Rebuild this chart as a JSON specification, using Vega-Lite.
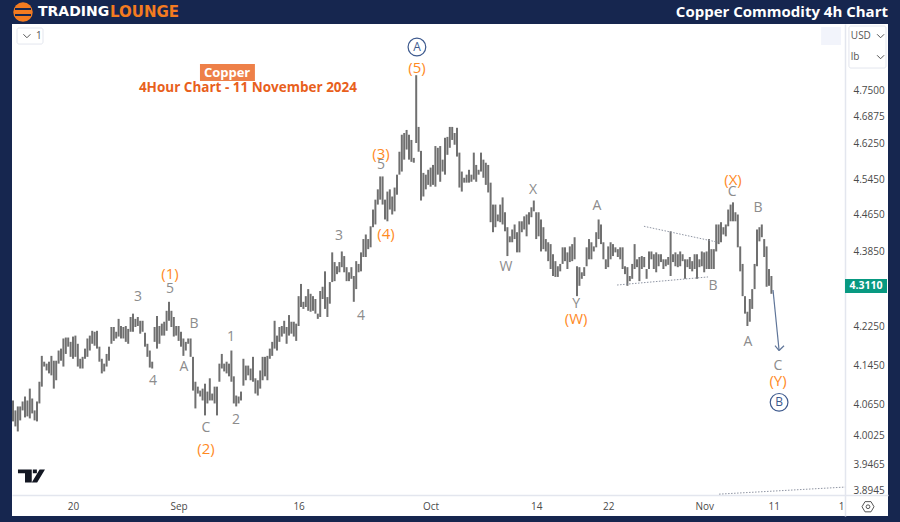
{"$schema":"https://vega.github.io/schema/vega-lite/v6.json","width":876,"height":492,"autosize":{"type":"none"},"padding":{"left":12,"top":24,"right":12,"bottom":6},"background":"#16264f","config":{"view":{"fill":"#ffffff","stroke":null},"text":{"baseline":"middle"}},
"datasets":{
"bars":[{"i":0,"h":4.073,"l":4.031},{"i":1,"h":4.053,"l":4.021},{"i":2,"h":4.061,"l":4.011},{"i":3,"h":4.061,"l":4.033},{"i":4,"h":4.071,"l":4.053},{"i":5,"h":4.081,"l":4.039},{"i":6,"h":4.073,"l":4.041},{"i":7,"h":4.097,"l":4.037},{"i":8,"h":4.077,"l":4.047},{"i":9,"h":4.053,"l":4.033},{"i":10,"h":4.071,"l":4.031},{"i":11,"h":4.111,"l":4.067},{"i":12,"h":4.164,"l":4.101},{"i":13,"h":4.152,"l":4.142},{"i":14,"h":4.148,"l":4.134},{"i":15,"h":4.152,"l":4.128},{"i":16,"h":4.164,"l":4.124},{"i":17,"h":4.154,"l":4.097},{"i":18,"h":4.154,"l":4.114},{"i":19,"h":4.175,"l":4.148},{"i":20,"h":4.179,"l":4.154},{"i":21,"h":4.2,"l":4.142},{"i":22,"h":4.202,"l":4.168},{"i":23,"h":4.202,"l":4.183},{"i":24,"h":4.193,"l":4.162},{"i":25,"h":4.204,"l":4.158},{"i":26,"h":4.206,"l":4.162},{"i":27,"h":4.189,"l":4.142},{"i":28,"h":4.158,"l":4.138},{"i":29,"h":4.162,"l":4.138},{"i":30,"h":4.179,"l":4.158},{"i":31,"h":4.2,"l":4.162},{"i":32,"h":4.206,"l":4.175},{"i":33,"h":4.216,"l":4.189},{"i":34,"h":4.214,"l":4.185},{"i":35,"h":4.216,"l":4.179},{"i":36,"h":4.183,"l":4.152},{"i":37,"h":4.158,"l":4.128},{"i":38,"h":4.148,"l":4.132},{"i":39,"h":4.168,"l":4.142},{"i":40,"h":4.183,"l":4.154},{"i":41,"h":4.224,"l":4.189},{"i":42,"h":4.224,"l":4.195},{"i":43,"h":4.214,"l":4.2},{"i":44,"h":4.241,"l":4.204},{"i":45,"h":4.226,"l":4.2},{"i":46,"h":4.224,"l":4.2},{"i":47,"h":4.226,"l":4.193},{"i":48,"h":4.22,"l":4.189},{"i":49,"h":4.245,"l":4.214},{"i":50,"h":4.252,"l":4.214},{"i":51,"h":4.241,"l":4.224},{"i":52,"h":4.245,"l":4.226},{"i":53,"h":4.237,"l":4.21},{"i":54,"h":4.237,"l":4.214},{"i":55,"h":4.212,"l":4.183},{"i":56,"h":4.189,"l":4.162},{"i":57,"h":4.175,"l":4.14},{"i":58,"h":4.152,"l":4.138},{"i":59,"h":4.224,"l":4.193},{"i":60,"h":4.247,"l":4.179},{"i":61,"h":4.226,"l":4.189},{"i":62,"h":4.231,"l":4.206},{"i":63,"h":4.235,"l":4.206},{"i":64,"h":4.258,"l":4.216},{"i":65,"h":4.277,"l":4.237},{"i":66,"h":4.258,"l":4.224},{"i":67,"h":4.245,"l":4.204},{"i":68,"h":4.226,"l":4.206},{"i":69,"h":4.226,"l":4.195},{"i":70,"h":4.214,"l":4.183},{"i":71,"h":4.2,"l":4.164},{"i":72,"h":4.193,"l":4.175},{"i":73,"h":4.2,"l":4.189},{"i":74,"h":4.2,"l":4.162},{"i":75,"h":4.162,"l":4.093},{"i":76,"h":4.111,"l":4.057},{"i":77,"h":4.101,"l":4.087},{"i":78,"h":4.093,"l":4.081},{"i":79,"h":4.097,"l":4.073},{"i":80,"h":4.107,"l":4.043},{"i":81,"h":4.091,"l":4.067},{"i":82,"h":4.118,"l":4.073},{"i":83,"h":4.087,"l":4.073},{"i":84,"h":4.101,"l":4.067},{"i":85,"h":4.101,"l":4.043},{"i":86,"h":4.148,"l":4.111},{"i":87,"h":4.168,"l":4.138},{"i":88,"h":4.148,"l":4.132},{"i":89,"h":4.152,"l":4.128},{"i":90,"h":4.148,"l":4.122},{"i":91,"h":4.175,"l":4.111},{"i":92,"h":4.122,"l":4.067},{"i":93,"h":4.083,"l":4.061},{"i":94,"h":4.081,"l":4.067},{"i":95,"h":4.091,"l":4.073},{"i":96,"h":4.158,"l":4.103},{"i":97,"h":4.144,"l":4.114},{"i":98,"h":4.144,"l":4.124},{"i":99,"h":4.138,"l":4.114},{"i":100,"h":4.162,"l":4.111},{"i":101,"h":4.118,"l":4.087},{"i":102,"h":4.114,"l":4.083},{"i":103,"h":4.134,"l":4.097},{"i":104,"h":4.162,"l":4.114},{"i":105,"h":4.162,"l":4.122},{"i":106,"h":4.164,"l":4.114},{"i":107,"h":4.179,"l":4.158},{"i":108,"h":4.193,"l":4.164},{"i":109,"h":4.237,"l":4.179},{"i":110,"h":4.206,"l":4.175},{"i":111,"h":4.224,"l":4.193},{"i":112,"h":4.226,"l":4.204},{"i":113,"h":4.237,"l":4.21},{"i":114,"h":4.224,"l":4.189},{"i":115,"h":4.249,"l":4.206},{"i":116,"h":4.235,"l":4.21},{"i":117,"h":4.235,"l":4.204},{"i":118,"h":4.231,"l":4.195},{"i":119,"h":4.289,"l":4.226},{"i":120,"h":4.315,"l":4.266},{"i":121,"h":4.277,"l":4.262},{"i":122,"h":4.289,"l":4.266},{"i":123,"h":4.304,"l":4.258},{"i":124,"h":4.294,"l":4.256},{"i":125,"h":4.289,"l":4.258},{"i":126,"h":4.283,"l":4.252},{"i":127,"h":4.252,"l":4.241},{"i":128,"h":4.3,"l":4.245},{"i":129,"h":4.309,"l":4.283},{"i":130,"h":4.342,"l":4.262},{"i":131,"h":4.287,"l":4.245},{"i":132,"h":4.319,"l":4.273},{"i":133,"h":4.383,"l":4.319},{"i":134,"h":4.362,"l":4.321},{"i":135,"h":4.353,"l":4.336},{"i":136,"h":4.362,"l":4.34},{"i":137,"h":4.385,"l":4.351},{"i":138,"h":4.375,"l":4.34},{"i":139,"h":4.351,"l":4.321},{"i":140,"h":4.34,"l":4.321},{"i":141,"h":4.351,"l":4.326},{"i":142,"h":4.332,"l":4.277},{"i":143,"h":4.364,"l":4.304},{"i":144,"h":4.358,"l":4.34},{"i":145,"h":4.383,"l":4.342},{"i":146,"h":4.412,"l":4.373},{"i":147,"h":4.422,"l":4.373},{"i":148,"h":4.412,"l":4.39},{"i":149,"h":4.44,"l":4.394},{"i":150,"h":4.477,"l":4.438},{"i":151,"h":4.499,"l":4.444},{"i":152,"h":4.522,"l":4.488},{"i":153,"h":4.551,"l":4.499},{"i":154,"h":4.551,"l":4.488},{"i":155,"h":4.499,"l":4.455},{"i":156,"h":4.517,"l":4.451},{"i":157,"h":4.522,"l":4.477},{"i":158,"h":4.506,"l":4.466},{"i":159,"h":4.526,"l":4.473},{"i":160,"h":4.555,"l":4.51},{"i":161,"h":4.607,"l":4.555},{"i":162,"h":4.646,"l":4.562},{"i":163,"h":4.65,"l":4.589},{"i":164,"h":4.657,"l":4.612},{"i":165,"h":4.646,"l":4.589},{"i":166,"h":4.634,"l":4.584},{"i":167,"h":4.593,"l":4.582},{"i":168,"h":4.785,"l":4.627},{"i":169,"h":4.664,"l":4.607},{"i":170,"h":4.609,"l":4.497},{"i":171,"h":4.559,"l":4.506},{"i":172,"h":4.555,"l":4.522},{"i":173,"h":4.566,"l":4.532},{"i":174,"h":4.571,"l":4.528},{"i":175,"h":4.577,"l":4.532},{"i":176,"h":4.62,"l":4.528},{"i":177,"h":4.616,"l":4.555},{"i":178,"h":4.62,"l":4.539},{"i":179,"h":4.589,"l":4.562},{"i":180,"h":4.639,"l":4.555},{"i":181,"h":4.641,"l":4.6},{"i":182,"h":4.664,"l":4.616},{"i":183,"h":4.664,"l":4.634},{"i":184,"h":4.65,"l":4.623},{"i":185,"h":4.662,"l":4.596},{"i":186,"h":4.605,"l":4.526},{"i":187,"h":4.562,"l":4.517},{"i":188,"h":4.548,"l":4.537},{"i":189,"h":4.555,"l":4.537},{"i":190,"h":4.566,"l":4.537},{"i":191,"h":4.555,"l":4.539},{"i":192,"h":4.605,"l":4.544},{"i":193,"h":4.577,"l":4.539},{"i":194,"h":4.566,"l":4.555},{"i":195,"h":4.605,"l":4.562},{"i":196,"h":4.589,"l":4.548},{"i":197,"h":4.582,"l":4.532},{"i":198,"h":4.577,"l":4.515},{"i":199,"h":4.537,"l":4.449},{"i":200,"h":4.488,"l":4.427},{"i":201,"h":4.488,"l":4.438},{"i":202,"h":4.466,"l":4.451},{"i":203,"h":4.488,"l":4.449},{"i":204,"h":4.504,"l":4.444},{"i":205,"h":4.471,"l":4.429},{"i":206,"h":4.438,"l":4.375},{"i":207,"h":4.418,"l":4.405},{"i":208,"h":4.433,"l":4.405},{"i":209,"h":4.444,"l":4.412},{"i":210,"h":4.427,"l":4.383},{"i":211,"h":4.451,"l":4.383},{"i":212,"h":4.451,"l":4.427},{"i":213,"h":4.462,"l":4.433},{"i":214,"h":4.466,"l":4.418},{"i":215,"h":4.471,"l":4.444},{"i":216,"h":4.482,"l":4.46},{"i":217,"h":4.497,"l":4.473},{"i":218,"h":4.471,"l":4.412},{"i":219,"h":4.471,"l":4.418},{"i":220,"h":4.455,"l":4.385},{"i":221,"h":4.438,"l":4.39},{"i":222,"h":4.412,"l":4.385},{"i":223,"h":4.405,"l":4.364},{"i":224,"h":4.401,"l":4.347},{"i":225,"h":4.379,"l":4.332},{"i":226,"h":4.364,"l":4.33},{"i":227,"h":4.353,"l":4.33},{"i":228,"h":4.358,"l":4.342},{"i":229,"h":4.394,"l":4.358},{"i":230,"h":4.394,"l":4.364},{"i":231,"h":4.383,"l":4.347},{"i":232,"h":4.396,"l":4.362},{"i":233,"h":4.401,"l":4.364},{"i":234,"h":4.416,"l":4.368},{"i":235,"h":4.353,"l":4.289},{"i":236,"h":4.351,"l":4.311},{"i":237,"h":4.34,"l":4.326},{"i":238,"h":4.351,"l":4.332},{"i":239,"h":4.394,"l":4.353},{"i":240,"h":4.412,"l":4.368},{"i":241,"h":4.405,"l":4.368},{"i":242,"h":4.396,"l":4.385},{"i":243,"h":4.427,"l":4.394},{"i":244,"h":4.455,"l":4.412},{"i":245,"h":4.444,"l":4.401},{"i":246,"h":4.405,"l":4.368},{"i":247,"h":4.368,"l":4.347},{"i":248,"h":4.396,"l":4.351},{"i":249,"h":4.405,"l":4.368},{"i":250,"h":4.401,"l":4.375},{"i":251,"h":4.394,"l":4.383},{"i":252,"h":4.39,"l":4.373},{"i":253,"h":4.394,"l":4.368},{"i":254,"h":4.394,"l":4.347},{"i":255,"h":4.353,"l":4.336},{"i":256,"h":4.351,"l":4.311},{"i":257,"h":4.332,"l":4.321},{"i":258,"h":4.358,"l":4.326},{"i":259,"h":4.401,"l":4.347},{"i":260,"h":4.368,"l":4.351},{"i":261,"h":4.373,"l":4.321},{"i":262,"h":4.375,"l":4.347},{"i":263,"h":4.373,"l":4.351},{"i":264,"h":4.347,"l":4.326},{"i":265,"h":4.385,"l":4.347},{"i":266,"h":4.385,"l":4.368},{"i":267,"h":4.379,"l":4.347},{"i":268,"h":4.383,"l":4.34},{"i":269,"h":4.379,"l":4.353},{"i":270,"h":4.379,"l":4.362},{"i":271,"h":4.368,"l":4.347},{"i":272,"h":4.368,"l":4.353},{"i":273,"h":4.373,"l":4.356},{"i":274,"h":4.429,"l":4.332},{"i":275,"h":4.379,"l":4.362},{"i":276,"h":4.383,"l":4.353},{"i":277,"h":4.379,"l":4.351},{"i":278,"h":4.385,"l":4.353},{"i":279,"h":4.379,"l":4.364},{"i":280,"h":4.368,"l":4.326},{"i":281,"h":4.368,"l":4.351},{"i":282,"h":4.373,"l":4.347},{"i":283,"h":4.364,"l":4.342},{"i":284,"h":4.379,"l":4.347},{"i":285,"h":4.379,"l":4.326},{"i":286,"h":4.368,"l":4.351},{"i":287,"h":4.385,"l":4.353},{"i":288,"h":4.383,"l":4.34},{"i":289,"h":4.385,"l":4.347},{"i":290,"h":4.412,"l":4.347},{"i":291,"h":4.39,"l":4.347},{"i":292,"h":4.39,"l":4.347},{"i":293,"h":4.444,"l":4.385},{"i":294,"h":4.444,"l":4.401},{"i":295,"h":4.449,"l":4.405},{"i":296,"h":4.438,"l":4.422},{"i":297,"h":4.444,"l":4.418},{"i":298,"h":4.477,"l":4.44},{"i":299,"h":4.488,"l":4.451},{"i":300,"h":4.493,"l":4.451},{"i":301,"h":4.471,"l":4.451},{"i":302,"h":4.466,"l":4.394},{"i":303,"h":4.396,"l":4.342},{"i":304,"h":4.358,"l":4.289},{"i":305,"h":4.289,"l":4.252},{"i":306,"h":4.256,"l":4.226},{"i":307,"h":4.283,"l":4.235},{"i":308,"h":4.304,"l":4.262},{"i":309,"h":4.358,"l":4.304},{"i":310,"h":4.433,"l":4.353},{"i":311,"h":4.438,"l":4.407},{"i":312,"h":4.444,"l":4.416},{"i":313,"h":4.412,"l":4.373},{"i":314,"h":4.396,"l":4.309},{"i":315,"h":4.347,"l":4.311},{"i":316,"h":4.332,"l":4.294}],
"orange":[{"i":168.3,"h":4.802,"t":"(5)"},{"i":153.3,"h":4.6018,"t":"(3)"},{"i":155.4,"h":4.423,"t":"(4)"},{"i":65.4,"h":4.3362,"t":"(1)"},{"i":80.4,"h":3.9765,"t":"(2)"},{"i":234.6,"h":4.2411,"t":"(W)"},{"i":300,"h":4.5439,"t":"(X)"},{"i":318.75,"h":4.1135,"t":"(Y)"}],
"gray":[{"i":153.3,"h":4.5768,"t":"5"},{"i":135.8,"h":4.418,"t":"3"},{"i":52.1,"h":4.2873,"t":"3"},{"i":65.4,"h":4.3042,"t":"5"},{"i":58.3,"h":4.1115,"t":"4"},{"i":75.4,"h":4.2306,"t":"B"},{"i":71.25,"h":4.142,"t":"A"},{"i":90.8,"h":4.2036,"t":"1"},{"i":80.4,"h":4.0174,"t":"C"},{"i":92.9,"h":4.0332,"t":"2"},{"i":145,"h":4.2473,"t":"4"},{"i":216.7,"h":4.5215,"t":"X"},{"i":205.4,"h":4.3511,"t":"W"},{"i":243.3,"h":4.4838,"t":"A"},{"i":234.6,"h":4.2725,"t":"Y"},{"i":291.7,"h":4.3106,"t":"B"},{"i":299.6,"h":4.5171,"t":"C"},{"i":310.4,"h":4.4794,"t":"B"},{"i":306.25,"h":4.1933,"t":"A"},{"i":318.75,"h":4.144,"t":"C"}],
"degree":[{"i":168.3,"h":4.8522,"t":"A"},{"i":319.2,"h":4.0692,"t":"B"}],
"trend":[{"i":262.9,"h":4.44,"i2":293.75,"l":4.405},{"i":251.7,"h":4.3127,"i2":289.6,"l":4.33},{"i":294.2,"h":3.8884,"i2":346.7,"l":3.902}],
"arrow":[{"i":316.67,"h":4.302,"i2":319.2,"l":4.175},{"i":317.5,"h":4.185,"i2":319.2,"l":4.175},{"i":321.25,"h":4.185,"i2":319.2,"l":4.175}],
"boxes":[{"i":1.67,"i2":12.5,"h":4.8982,"l":4.8594},{"i":348.3,"i2":363.75,"h":4.903,"l":4.802}],
"chevrons":[{"i":5.8,"h":4.8788},{"i":361.5,"h":4.8788},{"i":361.5,"h":4.8283}],
"ui":[{"i":9.6,"h":4.8788,"t":"1"},{"i":349.1,"h":4.8788,"t":"USD"},{"i":349.1,"h":4.8283,"t":"lb"}]
},
"encoding":{
"x":{"field":"i","type":"quantitative","scale":{"domain":[-0.4167,364.58],"nice":false,"zero":false},"axis":{"title":null,"orient":"bottom","offset":-21,"grid":false,"ticks":false,"domainColor":"#e3e6ee","domainWidth":1.5,"values":[25,69,119,174,218,248,288,317,345],"labelExpr":"{'25':'20','69':'Sep','119':'16','174':'Oct','218':'14','248':'22','288':'Nov','317':'11','345':'1'}[''+datum.value]","labelColor":"#4a4a4a","labelFont":"Open Sans","labelFontSize":10,"labelPadding":6,"labelOverlap":false,"labelFlush":false}},
"y":{"field":"h","type":"quantitative","scale":{"type":"log","domain":[3.8465,4.9079],"nice":false,"zero":false},"axis":{"title":null,"orient":"right","offset":-43,"grid":false,"ticks":false,"domainColor":"#e3e6ee","domainWidth":1.5,"values":[4.75,4.6875,4.625,4.545,4.465,4.385,4.225,4.145,4.065,4.0025,3.9465,3.8945],"format":".4f","labelColor":"#4a4a4a","labelFont":"Open Sans","labelFontSize":10,"labelPadding":8,"labelOverlap":false}}
},
"layer":[
{"data":{"values":[{"i":336.7,"i2":345,"h":4.9006,"l":4.8571}]},"mark":{"type":"rect","fill":"#f2f4fb"},"encoding":{"x2":{"field":"i2"},"y2":{"field":"l"}}},
{"data":{"name":"boxes"},"mark":{"type":"rect","fill":"#ffffff","stroke":"#e3e6ee","cornerRadius":2},"encoding":{"x2":{"field":"i2"},"y2":{"field":"l"}}},
{"data":{"name":"chevrons"},"mark":{"type":"point","shape":"M-1,-.5L0,.5L1,-.5","size":49,"filled":false,"stroke":"#555555","strokeWidth":1,"opacity":1}},
{"data":{"name":"ui"},"mark":{"type":"text","align":"left","font":"Open Sans","fontSize":10,"color":"#555555"},"encoding":{"text":{"field":"t"}}},
{"data":{"name":"bars"},"mark":{"type":"rule","color":"#707070","strokeWidth":2},"encoding":{"y2":{"field":"l"}}},
{"data":{"name":"trend"},"mark":{"type":"rule","color":"#8f95a3","strokeWidth":1,"strokeDash":[1.5,1.5]},"encoding":{"x2":{"field":"i2"},"y2":{"field":"l"}}},
{"data":{"name":"arrow"},"mark":{"type":"rule","color":"#5f7599","strokeWidth":1.2},"encoding":{"x2":{"field":"i2"},"y2":{"field":"l"}}},
{"data":{"name":"gray"},"mark":{"type":"text","font":"Open Sans","fontSize":14,"color":"#8c8c8c"},"encoding":{"text":{"field":"t"}}},
{"data":{"name":"orange"},"mark":{"type":"text","font":"Open Sans","fontSize":15,"color":"#ff8a1f"},"encoding":{"text":{"field":"t"}}},
{"data":{"name":"degree"},"mark":{"type":"point","size":314,"filled":false,"stroke":"#3e5a8e","strokeWidth":1.2,"opacity":1}},
{"data":{"name":"degree"},"mark":{"type":"text","font":"Open Sans","fontSize":12,"color":"#3e5a8e"},"encoding":{"text":{"field":"t"}}},
{"data":{"values":[{"i":77.9,"i2":100.8,"h":4.8116,"l":4.7712}]},"mark":{"type":"rect","fill":"#ee8048"},"encoding":{"x2":{"field":"i2"},"y2":{"field":"l"}}},
{"data":{"values":[{"i":89.2,"h":4.7902,"t":"Copper"}]},"mark":{"type":"text","font":"Open Sans","fontSize":13,"fontWeight":"bold","color":"#ffffff"},"encoding":{"text":{"field":"t"}}},
{"data":{"values":[{"i":97.9,"h":4.7547,"t":"4Hour Chart - 11 November  2024"}]},"mark":{"type":"text","font":"Open Sans","fontSize":13.5,"fontWeight":"bold","color":"#e8601c"},"encoding":{"text":{"field":"t"}}},
{"data":{"values":[{"i":346.67,"i2":364.17,"h":4.3255,"l":4.2957}]},"mark":{"type":"rect","fill":"#089981"},"encoding":{"x2":{"field":"i2"},"y2":{"field":"l"}}},
{"data":{"values":[{"i":355.4,"h":4.311,"t":"4.3110"}]},"mark":{"type":"text","font":"Open Sans","fontSize":10.5,"fontWeight":"bold","color":"#ffffff"},"encoding":{"text":{"field":"t"}}},
{"data":{"values":[{"i":7.7,"h":3.9235}]},"mark":{"type":"point","shape":"M-1,-.48H.02V.48H-.48V-.2H-1ZM.6,-.48H1L.42,.48H.02ZM.1,-.48H.4V-.2H.1Z","size":729,"filled":true,"fill":"#131722","opacity":1}},
{"data":{"values":[{"i":356.25,"h":3.8642}]},"mark":{"type":"point","shape":"M-1,0L-.5,-.85L.5,-.85L1,0L.5,.85L-.5,.85Z","size":144,"filled":false,"stroke":"#555555","strokeWidth":1,"opacity":1}},
{"data":{"values":[{"i":356.25,"h":3.8642}]},"mark":{"type":"point","size":14,"filled":false,"stroke":"#555555","strokeWidth":1,"opacity":1}},
{"data":{"values":[{"i":4.17,"h":4.9371}]},"mark":{"type":"point","size":380,"filled":true,"fill":"#f47b20","opacity":1}},
{"data":{"values":[{"i":0.83,"h":4.9445,"i2":7.5},{"i":0.83,"h":4.9298,"i2":7.5}]},"mark":{"type":"rule","color":"#16264f","strokeWidth":2},"encoding":{"x2":{"field":"i2"}}},
{"data":{"values":[{"i":10.4,"h":4.9371,"t":"TRADING"}]},"mark":{"type":"text","align":"left","font":"DejaVu Sans","fontSize":14,"fontWeight":"bold","color":"#ffffff"},"encoding":{"text":{"field":"t"}}},
{"data":{"values":[{"i":40.4,"h":4.9371,"t":"LOUNGE"}]},"mark":{"type":"text","align":"left","font":"DejaVu Sans","fontSize":15,"fontWeight":"bold","color":"#f47b20"},"encoding":{"text":{"field":"t"}}},
{"data":{"values":[{"i":364.58,"h":4.9371,"t":"Copper Commodity 4h Chart"}]},"mark":{"type":"text","align":"right","font":"Open Sans","fontSize":15,"fontWeight":"bold","color":"#ffffff"},"encoding":{"text":{"field":"t"}}}
]}
